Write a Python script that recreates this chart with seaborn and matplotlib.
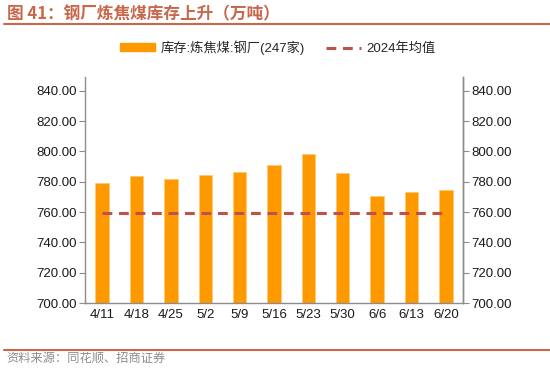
import matplotlib
matplotlib.use('Agg')
import matplotlib.pyplot as plt
import seaborn as sns
import pandas as pd
from matplotlib.lines import Line2D
from matplotlib.patches import Patch

# Data
dates = ['4/11', '4/18', '4/25', '5/2', '5/9', '5/16', '5/23', '5/30', '6/6', '6/13', '6/20']
stock = [779.0, 783.7, 781.9, 784.5, 786.7, 791.0, 798.2, 786.0, 770.5, 773.3, 774.4]
avg_2024 = [759.2] * len(dates)
yticks = [700, 720, 740, 760, 780, 800, 820, 840]

df = pd.DataFrame({'date': dates, 'stock': stock, 'avg': avg_2024})

sns.set_theme(style="white")
plt.rcParams['font.family'] = ['Liberation Sans', 'Noto Sans CJK SC', 'DejaVu Sans']

bar_color = '#FF9900'
line_color = '#C0504D'
accent = '#C8674A'
axis_gray = '#8C8C8C'

fig = plt.figure(figsize=(5.5, 3.8), dpi=100)
ax = fig.add_axes([0.1545, 0.2026, 0.6873, 0.5944])

sns.barplot(data=df, x='date', y='stock', color=bar_color, width=0.39,
            edgecolor='#FFC870', linewidth=0.6, saturation=1, ax=ax)
ax.plot(range(len(dates)), df['avg'], color=line_color, linestyle=(0, (3.2, 2.2)),
        linewidth=2.2)

ax.set_ylim(700, 849)
ax.set_xlim(-0.5, len(dates) - 0.5)
ax.set_yticks(yticks)
ax.set_yticklabels([f'{v:.2f}' for v in yticks], fontsize=9.5, color='#1a1a1a')
ax.set_xlabel('')
ax.set_ylabel('')
ax.tick_params(axis='x', length=0, labelsize=9.5, labelcolor='#1a1a1a', pad=4)
ax.set_xticks([i - 0.5 for i in range(len(dates) + 1)], minor=True)
ax.tick_params(axis='x', which='minor', length=4, color=axis_gray, direction='out', width=0.8)
ax.tick_params(axis='y', length=4, color=axis_gray, direction='out', width=0.8, pad=2)

ax.spines['top'].set_visible(False)
for side in ['left', 'right', 'bottom']:
    ax.spines[side].set_color(axis_gray)
    ax.spines[side].set_linewidth(1.0)

ax2 = ax.twinx()
ax2.set_ylim(ax.get_ylim())
ax2.set_yticks(yticks)
ax2.set_yticklabels([f'{v:.2f}' for v in yticks], fontsize=9.5, color='#1a1a1a')
ax2.tick_params(axis='y', length=4, color=axis_gray, direction='out', width=0.8, pad=2)
for side in ['top', 'left', 'bottom']:
    ax2.spines[side].set_visible(False)
ax2.spines['right'].set_color(axis_gray)
ax2.spines['right'].set_linewidth(1.0)
ax2.grid(False)

# Legend
handles = [Patch(facecolor=bar_color, edgecolor=bar_color),
           Line2D([0], [0], color=line_color, linestyle=(0, (3.2, 2.2)), linewidth=2.2)]
labels = ['库存:炼焦煤:钢厂(247家)', '2024年均值']
fig.legend(handles, labels, loc='center', bbox_to_anchor=(0.505, 0.875), ncol=2,
           frameon=False, handlelength=2.7, handleheight=0.5,
           columnspacing=1.6, handletextpad=0.4,
           prop={'family': ['Liberation Sans', 'Noto Sans CJK SC'], 'size': 9.5})

# Title and footer
fig.text(0.012, 0.962, '图 41：钢厂炼焦煤库存上升（万吨）', fontsize=12, fontweight='bold',
         color=accent, ha='left', va='center',
         family=['Noto Sans CJK SC', 'DejaVu Sans'])
fig.add_artist(Line2D([0.008, 1.0], [0.938, 0.938], color=accent, linewidth=1.5))
fig.add_artist(Line2D([0.008, 1.0], [0.080, 0.080], color=accent, linewidth=1.5))
fig.text(0.012, 0.057, '资料来源：同花顺、招商证券', fontsize=8.8, color='#8C8C8C',
         ha='left', va='center', family=['Noto Sans CJK SC', 'DejaVu Sans'])

fig.savefig('out.png', dpi=100)
